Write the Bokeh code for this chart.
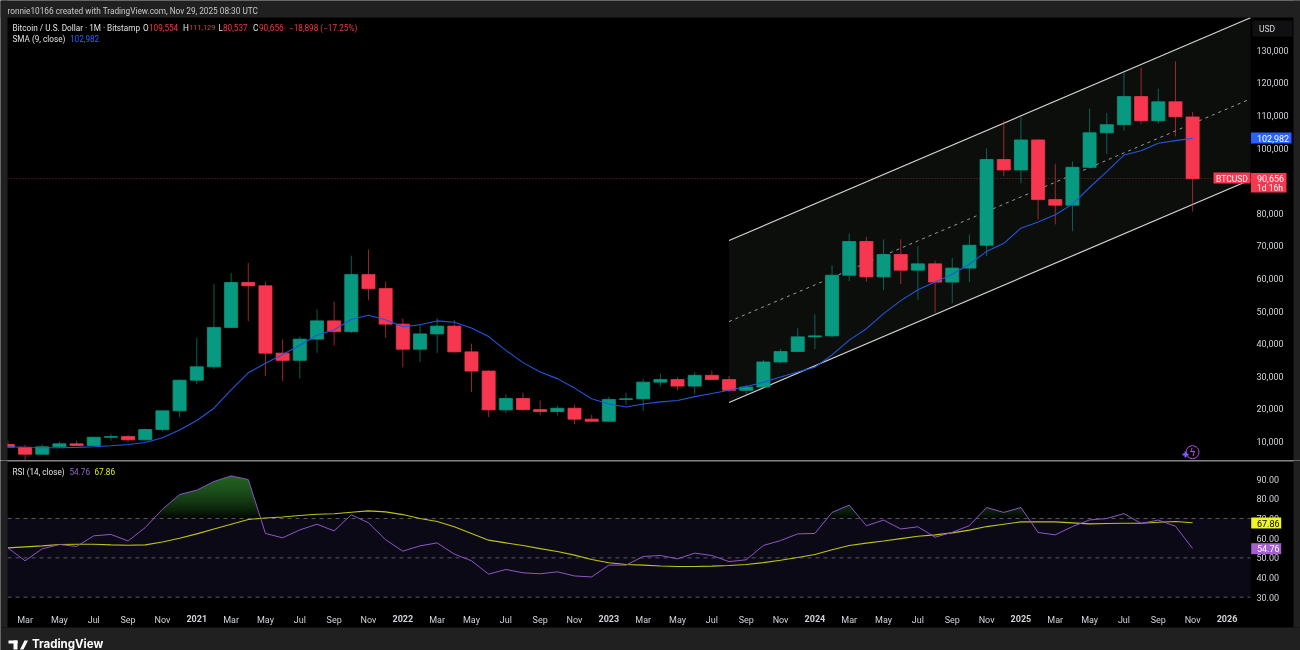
import numpy as np
from bokeh.embed import file_html
from bokeh.resources import INLINE
from bokeh.plotting import figure
from bokeh.layouts import column
from bokeh.models import (Label, BoxAnnotation, PolyAnnotation, Range1d, LinearAxis,
                          FixedTicker, NumeralTickFormatter)

# ---------- data ----------
months = ["Feb 2020","Mar","Apr","May","Jun","Jul","Aug","Sep","Oct","Nov","Dec",
          "2021","Feb","Mar","Apr","May","Jun","Jul","Aug","Sep","Oct","Nov","Dec",
          "2022","Feb","Mar","Apr","May","Jun","Jul","Aug","Sep","Oct","Nov","Dec",
          "2023","Feb","Mar","Apr","May","Jun","Jul","Aug","Sep","Oct","Nov","Dec",
          "2024","Feb","Mar","Apr","May","Jun","Jul","Aug","Sep","Oct","Nov","Dec",
          "2025","Feb","Mar","Apr","May","Jun","Jul","Aug","Sep","Oct","Nov"]
opens = [9080,8250,6100,8370,9290,8770,11300,11500,10520,13680,19400,
         28800,32900,45000,58770,57760,37100,34900,41400,47000,43700,61200,56900,
         46000,38300,43000,45400,37500,31600,19700,23200,19800,19200,20200,16850,
         16200,22900,23100,28200,29000,27000,30300,29000,25700,26700,34400,37600,
         42100,42400,61000,71350,60500,67350,62550,64500,58900,63200,70200,96500,
         93300,102500,84200,82500,94100,104700,107200,115800,108400,114200,109554]
highs = [10300,9000,9170,10000,10300,11400,12240,12000,14000,19600,29000,
         41800,58250,61750,64800,59100,41290,42200,50500,52900,67000,68900,59100,
         47800,45800,47900,47300,40000,31900,24500,25000,22600,21000,21300,18200,
         23800,25000,29200,30800,29700,31400,31800,30100,27400,35000,38400,44700,
         49000,64000,73800,72800,72000,72000,69900,65500,66300,73500,99900,108400,
         109500,102800,95200,95900,112100,110700,123200,124700,118200,126600,111129]
lows = [8250,4200,5900,7950,8700,8700,10200,9700,10300,13070,17450,
        27600,32200,45000,46900,30000,28500,29300,37200,39400,43200,53300,41800,
        32800,34300,37100,37300,25200,17500,18700,19300,18000,18000,15300,16200,
        16200,21200,19300,26900,25600,24500,28900,25200,24600,26700,34000,37500,
        38300,41800,59200,59000,56400,58300,53500,49500,52400,58900,66800,91400,
        89200,78100,76600,74500,93700,98200,105300,107500,107500,103600,80537]
closes = [8250,6100,8370,9290,8770,11300,11500,10520,13680,19400,28800,
          32900,45000,58770,57760,37100,34900,41400,47000,43700,61200,56900,46000,
          38300,43000,45400,37500,31600,19700,23200,19800,19200,20200,16850,16200,
          22900,23100,28200,29000,27000,30300,29000,25700,26700,34400,37600,42100,
          42400,61000,71350,60500,67350,62550,64500,58900,63200,70200,96500,93300,
          102500,84200,82500,94100,104700,107200,115800,108400,114200,109600,90656]
sma9 = [8470,8160,8060,8100,8200,8400,8680,9080,9690,11130,13540,
        16440,20200,25860,31070,34000,36690,39530,42600,44300,47400,48730,47320,
        45170,45820,46990,46560,44840,42180,37960,34200,31290,29290,26380,23140,
        21520,20570,21520,22160,22590,23760,24730,25700,26870,28140,29760,31300,
        32780,36560,41100,44600,49240,53220,56570,58930,61280,64380,68320,70780,
        75440,77320,79530,82820,87910,92800,97870,99190,101510,102300,102982]
rsi14 = [55.1,48.5,54.6,56.8,55.8,61.2,61.9,58.6,65.4,74.7,82.2,
         84.4,88.8,91.7,89.8,62.4,60.2,64.2,67.1,63.7,71.9,67.8,59.2,
         53.4,56.1,57.6,51.9,48.5,41.7,44.1,42.4,41.9,42.9,40.8,40.3,
         46.3,46.3,50.7,51.2,49.5,52.4,51.2,48.1,49.0,56.3,58.8,62.2,
         62.4,73.1,76.8,66.3,69.2,64.7,65.8,60.5,63.0,66.4,75.6,73.1,
         75.6,62.9,61.7,65.9,69.3,70.0,72.5,67.5,69.2,66.1,54.76]
rsi_ma = [55.1,55.6,56.1,56.8,56.9,56.9,56.6,56.4,56.6,58.1,60.0,
          62.2,64.7,67.1,69.5,70.3,70.8,71.5,72.2,72.4,73.2,73.9,73.4,
          72.0,70.0,68.5,65.8,62.4,59.0,57.6,56.3,54.7,53.2,51.4,49.2,
          47.5,46.6,46.3,45.9,45.6,45.6,45.8,46.1,46.6,47.6,48.8,50.2,
          51.7,54.1,56.3,57.5,58.6,59.8,61.0,61.7,62.7,64.1,65.9,67.1,
          68.3,68.3,68.3,67.8,67.3,67.5,67.6,67.6,68.1,68.5,67.86]
channel_x = [42.0, 72.37]
channel_upper = [71650, 140000]
channel_mid = [46800, 115100]
channel_lower = [21960, 90280]
price_ticks = [10000,20000,30000,40000,50000,60000,70000,80000,90000,100000,110000,120000,130000]
rsi_ticks = [30,40,50,60,70,80,90]
rsi_levels = [70, 50, 30]
last_close = 90656

# ---------- colours ----------
GREEN, RED, BLUE = "#089981", "#f7374f", "#2962ff"
PURPLE, YELLOW = "#8e55c4", "#bcc414"
PANEL, BAR, TXT = "#000000", "#202020", "#cfd2d8"
FONT = "Roboto"

# pixel helpers (labels and furniture only)
def X(px): return (px - 7.4) / 17.17
def Y(py): return 10000 + (441 - py) / 0.00326
def R(py): return 30 + (596.7 - py) / 1.967

pane_x = [X(7), X(1250)]
idx = np.arange(len(months))
o, h, l, c = map(np.array, (opens, highs, lows, closes))
up = c >= o

def price_axis(fig, ticks, fmt):
    a = LinearAxis(fixed_location=X(1250), ticker=FixedTicker(ticks=ticks),
                   formatter=NumeralTickFormatter(format=fmt))
    a.axis_line_color = None
    a.major_tick_line_color = None
    a.minor_tick_line_color = None
    a.major_tick_out = 0
    a.major_tick_in = 0
    a.minor_tick_out = 0
    a.major_label_text_color = TXT
    a.major_label_text_font = FONT
    a.major_label_text_font_size = "9px"
    a.major_label_standoff = 6
    fig.add_layout(a, "right")

def box(fig, fy, x0, x1, y0, y1, col, level="annotation"):
    fig.add_layout(BoxAnnotation(left=X(x0), right=X(x1), bottom=fy(y1), top=fy(y0),
                                 fill_color=col, fill_alpha=1, line_color=None, level=level))

def txt(fig, fy, px, py, s, col=TXT, size=8.3, align="left", weight="normal", font=FONT):
    fig.add_layout(Label(x=X(px), y=fy(py), text=s, text_color=col, text_font=font,
                         text_font_size=f"{size}px", text_align=align, text_baseline="middle",
                         text_font_style=weight))

# ---------- price pane ----------
p = figure(width=1300, height=460, output_backend="svg", toolbar_location=None,
           x_range=Range1d(X(0), X(1300)), y_range=Range1d(Y(460), Y(0)),
           x_axis_location=None, y_axis_location=None,
           background_fill_color=PANEL, border_fill_color=PANEL,
           min_border=0, outline_line_color=None)
p.grid.visible = False
price_axis(p, price_ticks, "0,0")

p.patch(channel_x + channel_x[::-1], channel_upper + channel_lower[::-1],
        fill_color="#0b0e0b", line_color=None)
p.line(pane_x, [last_close, last_close], line_color="#f23645", line_alpha=0.55, line_dash=[1, 2], line_width=1)
p.line(channel_x, channel_upper, line_color="#d4d4d4", line_width=1.2)
p.line(channel_x, channel_lower, line_color="#d4d4d4", line_width=1.2)
p.line(channel_x, channel_mid, line_color="#9c9c9c", line_width=1, line_dash=[3, 4])

for mask, col in ((up, GREEN), (~up, RED)):
    p.segment(idx[mask], h[mask], idx[mask], l[mask], line_color=col, line_alpha=0.62, line_width=1)
    p.vbar(idx[mask], 0.76, np.maximum(o[mask], c[mask]), np.minimum(o[mask], c[mask]),
           fill_color=col, line_color=col, line_width=0.8)
p.line(idx, sma9, line_color="#2157e0", line_width=1.1)

# page furniture around the pane
box(p, Y, 0, 1300, 0, 17, BAR)
box(p, Y, 0, 7, 0, 460, BAR)
box(p, Y, 1293, 1300, 0, 460, BAR)

# header texts
txt(p, Y, 7, 10, "ronnie10166 created with TradingView.com, Nov 29, 2025 08:30 UTC", "#c8c8c8", 8.25)
txt(p, Y, 12, 27, "Bitcoin / U.S. Dollar · 1M · Bitstamp", "#e0e0e0", 8.2)
for px, s, col, sz in ((142.5, "O", "#e0e0e0", 8.2), (148.5, "109,554", "#f23645", 8.2),
                       (182.5, "H", "#e0e0e0", 8.2), (188.5, "111,129", "#f23645", 7.4),
                       (218, "L", "#e0e0e0", 8.2), (222.5, "80,537", "#f23645", 8.2),
                       (252.5, "C", "#e0e0e0", 8.2), (258.5, "90,656", "#f23645", 8.2),
                       (288.5, "−18,898 (−17.25%)", "#f23645", 8.2)):
    txt(p, Y, px, 27, s, col, sz)
txt(p, Y, 12, 38, "SMA (9, close)", "#e0e0e0", 8.2)
txt(p, Y, 69.5, 38, "102,982", "#2962ff", 8.2)

# price scale furniture
box(p, Y, 1252, 1292, 20, 36, "#101012")
txt(p, Y, 1258.5, 28, "USD", "#d8d8d8", 8.5)
box(p, Y, 1250.5, 1291, 132, 143, BLUE)
txt(p, Y, 1256.5, 137.7, "102,982", "#ffffff", 9)
box(p, Y, 1213, 1250, 172, 183, RED)
txt(p, Y, 1231.5, 178, "BTCUSD", "#ffffff", 8.5, "center")
box(p, Y, 1250.5, 1286, 172.5, 192, RED)
txt(p, Y, 1256.5, 178, "90,656", "#ffffff", 9)
txt(p, Y, 1256.5, 187, "1d 16h", "#ffffff", 8.5)

# flash icon
p.scatter([X(1192)], [Y(451.7)], marker="circle", size=13, fill_color=None, line_color="#b44fe0", line_width=1)
p.scatter([X(1185)], [Y(454)], marker="cross", size=6, line_color="#7c5cff", line_width=2)
txt(p, Y, 1192, 451.5, "ϟ", "#c050e8", 10, "center", font="DejaVu Sans")

# ---------- RSI pane ----------
q = figure(width=1300, height=190, output_backend="svg", toolbar_location=None,
           x_range=Range1d(X(0), X(1300)), y_range=Range1d(R(650), R(460)),
           x_axis_location=None, y_axis_location=None,
           background_fill_color=PANEL, border_fill_color=PANEL,
           min_border=0, outline_line_color=None)
q.grid.visible = False
price_axis(q, rsi_ticks, "0.00")

q.add_layout(BoxAnnotation(left=pane_x[0], right=pane_x[1], bottom=30, top=70,
                           fill_color="#0c0916", fill_alpha=1, line_color=None, level="underlay"))
for lv in rsi_levels:
    q.line(pane_x, [lv, lv], line_color="#787b86", line_dash=[4, 4], line_width=1, line_alpha=0.7)

# overbought gradient: stacked translucent layers above 70
xf = np.arange(0, len(months) - 0.95, 0.05)
yf = np.interp(xf, idx, rsi14)
for lv in np.arange(70, 92, 1.0):
    q.varea(xf, np.full_like(xf, lv), np.maximum(yf, lv), fill_color="#33a043", fill_alpha=0.05)

q.line(idx, rsi_ma, line_color=YELLOW, line_width=1.1)
q.line(idx, rsi14, line_color=PURPLE, line_width=1)

# time axis: months and bold years in the strip under the pane
month_pos = [int(i) for i in idx if (i - 1) % 2 == 0 and not months[i].isdigit()]
year_pos = [int(i) for i in idx if months[i].isdigit()] + [71]
year_text = {int(i): months[i] for i in idx if months[i].isdigit()}
year_text[71] = "2026"
for pos, overrides, style in ((month_pos, {i: months[i] for i in month_pos}, "normal"), (year_pos, year_text, "bold")):
    ax = LinearAxis(fixed_location=R(607), ticker=FixedTicker(ticks=pos), major_label_overrides=overrides)
    ax.axis_line_color = None
    ax.major_tick_line_color = None
    ax.minor_tick_line_color = None
    ax.major_tick_out = 0
    ax.major_tick_in = 0
    ax.minor_tick_out = 0
    ax.major_label_text_color = TXT
    ax.major_label_text_font = FONT
    ax.major_label_text_font_size = "9px"
    ax.major_label_text_font_style = style
    ax.major_label_standoff = 7
    q.add_layout(ax, "below")

box(q, R, 0, 1300, 460, 461, "#8c8c8c")
box(q, R, 0, 7, 460, 627, BAR)
box(q, R, 1293, 1300, 460, 627, BAR)
box(q, R, 0, 1300, 627, 650, BAR)

txt(q, R, 12, 471, "RSI (14, close)", "#e0e0e0", 8.2)
txt(q, R, 69, 471, "54.76", "#9467c9", 8.2)
txt(q, R, 94, 471, "67.86", "#e5ee1c", 8.2)

box(q, R, 1250.7, 1280.7, 517, 528, "#eef51f")
txt(q, R, 1256.5, 522.5, "67.86", "#000000", 9)
box(q, R, 1250.7, 1280.7, 542.7, 553.7, "#a65fd0")
txt(q, R, 1256.5, 548.2, "54.76", "#ffffff", 9)

# TradingView logo
box(q, R, 8, 17, 640, 643, "#ffffff")
box(q, R, 13, 17, 640, 649, "#ffffff")
q.add_layout(PolyAnnotation(xs=[X(24), X(27.5), X(23), X(19.5)], ys=[R(640), R(640), R(649), R(649)],
                            fill_color="#ffffff", fill_alpha=1, line_color=None))
q.scatter([X(20.3)], [R(642)], marker="circle", size=4, fill_color="#ffffff", line_color=None)
txt(q, R, 31.5, 643.5, "TradingView", "#ffffff", 11.5, weight="bold", font="Inter")

page = column(p, q, spacing=0, styles={"position": "fixed", "left": "0px", "top": "0px"})
open("out.html", "w").write(file_html(page, INLINE))
